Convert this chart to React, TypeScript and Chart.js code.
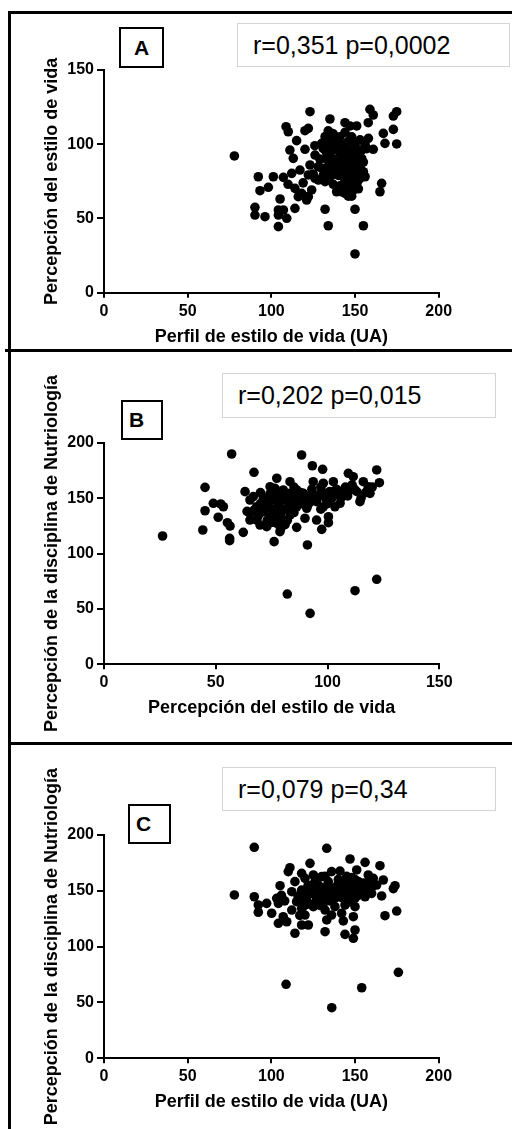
import React, { useEffect, useRef } from "react";
import { Chart, registerables } from "chart.js";

Chart.register(...registerables);

const FONT = '"Liberation Sans", Arial, Helvetica, sans-serif';

// Panel A: Perfil de estilo de vida (x) vs Percepción del estilo de vida (y)
const aX = [
  77.9, 123.1, 135, 158.9, 160.9, 174.9, 172.9, 108.8, 110.1, 120.1, 122.1, 144, 147, 151, 157.9, 166.9, 172.9, 167.9, 174.9, 160.9,
  115.1, 111.1, 113.1, 120.1, 132.1, 136, 130.1, 138, 142, 133.1, 126.1, 123.1, 128.1, 138, 144, 148, 152, 154, 151, 155,
  142, 136, 132.1, 128.1, 146, 150, 140, 144, 149, 152, 156, 92.2, 101.2, 107.2, 112.2, 117.1, 122.1, 126.1, 93.2, 98.2,
  114.1, 118.1, 122.1, 124.1, 116.1, 121.1, 105.2, 90.2, 90.2, 96.2, 104.2, 107.2, 104.2, 109.2, 114.1, 132.1, 150, 104.2, 134, 155,
  150, 165.9, 164.9,
  135, 137, 140, 142, 145, 147, 139, 143, 145, 147, 148, 150, 152, 153, 149, 146, 143, 140, 138, 134,
  131, 129, 133, 135, 131, 137, 139, 146, 151, 153, 155, 156, 158, 153, 150, 148, 146, 144, 141, 137,
  134, 136, 142, 145, 148, 152, 154, 157, 141, 139, 130, 125, 119, 110, 126,
  133, 136, 138, 140, 141, 144, 147, 149, 151, 150, 143, 137, 135, 139, 146, 148, 144, 142, 152, 134,
];
const aY = [
  92.1, 121.9, 117, 123.5, 119.7, 121.9, 119, 111.8, 108.4, 109.1, 110.7, 114.5, 112.3, 112.3, 114.5, 107.3, 110, 100.6, 100.2, 96.6,
  102.4, 96.1, 90.5, 96.6, 105.1, 107.3, 100.6, 100.6, 98.3, 93.9, 92.7, 86, 84.9, 87.1, 91.6, 93.9, 96.1, 90.5, 84.9, 81.5,
  81.5, 79.3, 74.8, 75.9, 75.9, 77, 71.4, 66.9, 69.2, 75.9, 78.1, 78.1, 78.1, 77.7, 80.4, 82.6, 79.3, 77, 68.7, 71,
  70.3, 66.9, 64.7, 69.2, 64.7, 62.4, 63.1, 57.5, 52.3, 51.2, 55.7, 55.7, 52.3, 50.1, 56.8, 56.2, 56.2, 44.5, 45.1, 45.1,
  26.1, 73.7, 68,
  95, 90, 88, 85, 83, 80, 80, 78, 72, 68, 65, 70, 80, 85, 88, 92, 96, 100, 104, 102,
  97, 90, 82, 78, 79, 73, 68, 65, 73, 77, 88, 100, 104, 103, 100, 105, 102, 108, 105, 107,
  109, 98, 93, 86, 82, 91, 96, 97, 72, 85, 84, 80, 74, 73, 99,
  90, 86, 83, 79, 94, 100, 96, 84, 88, 80, 88, 96, 101, 97, 88, 75, 74, 68, 70, 85,
];

// Panel B: Percepción del estilo de vida (x) vs Percepción de la disciplina de Nutriología (y)
const bX = [
  26.2, 57.1, 88.4, 67.1, 93.2, 97.8, 122, 123.2, 45.2, 48.9, 52.2, 53.4, 45.2, 51.1, 55.2, 56.4, 44.2, 56.2, 56.2, 62.3,
  63.1, 76.1, 91, 82, 92.2, 112.3, 122, 86.2, 95.1, 97.4, 100.4, 100.4, 114.5, 119, 118.2, 109.3, 111.5, 116, 107.1, 110.1,
  105.6, 103.3, 102.6, 98.1, 93.6, 98.1, 95.1, 90.7, 89.9, 83.2, 77.3, 86.2, 89.2,
  65.3, 68.3, 71.3, 74.3, 77.3, 80.2, 83.2, 86.2, 65.3, 68.3, 71.3, 74.3, 77.3, 80.2, 83.2, 72.8, 78.7, 69.8, 65.3, 74.3,
  80.2, 76.5, 72.8, 83.2, 77.3, 66.8,
  70, 73, 75, 78, 81, 84, 87, 90, 92, 94, 96, 99, 101, 104, 106, 108, 111, 113, 115, 117,
  120, 76, 79, 82, 85, 88, 91, 97, 100, 102, 67, 70, 75, 85, 88, 93, 97, 79, 64,
  72, 74, 78, 81, 83, 86, 89, 92, 95, 98, 103, 106, 109, 112, 118, 69, 73, 78, 81, 75,
];
const bY = [
  115.8, 189.8, 188.9, 173.3, 179.2, 176, 175.4, 163.9, 159.7, 145.3, 144.7, 142.2, 138.6, 132.7, 127.8, 124.8, 121.2, 113.7, 111.6, 119.1,
  155.8, 110.7, 107.7, 63.4, 46, 66.4, 76.7, 123.6, 130.2, 121.8, 133.2, 127.8, 146.8, 154.3, 160.3, 172.4, 169.3, 164.8, 152.8, 157.3,
  145.3, 142.2, 164.8, 163.4, 164.8, 142.2, 146.8, 140.8, 131.8, 164.8, 167.9, 157.3, 154.3,
  148.3, 142.2, 149.8, 154.3, 148.3, 151.3, 145.3, 142.2, 136.2, 130.2, 137.7, 133.2, 127.3, 130.2, 134.7, 124.2, 119.7, 125.7, 130.2, 160.3,
  157.3, 158.8, 142.2, 154.3, 139.3, 151.3,
  145, 147, 140, 144, 140, 150, 148, 150, 152, 148, 153, 150, 156, 158, 150, 160, 162, 156, 150, 155,
  160, 135, 136, 130, 137, 145, 143, 140, 145, 150, 139, 155, 150, 160, 155, 158, 160, 122, 138,
  150, 146, 152, 148, 141, 150, 147, 146, 150, 155, 153, 156, 152, 158, 157, 134, 130, 133, 126, 128,
];

// Panel C: Perfil de estilo de vida (x) vs Percepción de la disciplina de Nutriología (y)
const cX = [
  89.8, 133.1, 77.9, 89.8, 123.1, 147, 156, 164.9, 173.9, 172.9, 165.9, 167.9, 174.9, 166.9, 111.1, 105.2, 92.2, 97.2, 100.2, 92.2,
  104.2, 109.2, 107.1, 103.2, 104.2, 114.1, 118.1, 122.1, 120.1, 132.1, 144, 150, 149, 143, 149, 133.1, 108.8, 154, 136.1, 175.9,
  110.1, 118.1, 125.1, 130.1, 136, 141, 151, 157.9, 160.9, 114.1, 120.1, 128.1, 134, 140, 146, 152, 157.9, 162.9, 112.2, 118.1,
  124.1, 130.1, 136, 142, 148, 154, 159.9, 115.1, 121.1, 127.1, 132.1, 138, 144, 150, 156, 112.2, 118.1, 125.1, 132.1, 138,
  144, 150, 136, 142,
  145, 147, 149, 151, 153, 155, 139, 141, 143, 137, 133, 131, 127, 122, 116, 108, 106, 126, 135, 146,
  152, 158, 160, 144, 148, 132, 129, 120, 117,
  120, 124, 128, 130, 134, 138, 140, 142, 146, 150, 153, 156, 158, 150, 145, 140, 126, 122, 118, 123,
];
const cY = [
  189, 188.1, 146.3, 144.7, 174.6, 178.5, 175.5, 172.5, 154.6, 152, 145.4, 127.7, 131.9, 159.7, 170.7, 154.6, 137.3, 138.8, 129.9, 130.8,
  120.9, 122.3, 126.8, 143.3, 138.8, 112, 119.4, 119.4, 128.3, 113.4, 111, 114.9, 107.5, 123, 126.8, 123.9, 66.3, 63.2, 45.3, 77,
  167.2, 165.7, 164.2, 162.7, 167.2, 167.7, 168.7, 164.2, 161.2, 158.2, 161.2, 155.2, 158.2, 156.7, 161.2, 158.2, 155.2, 155.2, 149.2, 150.7,
  147.7, 149.2, 152.2, 149.2, 150.7, 149.2, 147.7, 140.3, 141.8, 143.3, 140.3, 143.3, 144.7, 143.3, 144.7, 132.8, 134.3, 135.8, 132.8, 135.8,
  137.3, 135.8, 128.3, 129.9,
  152, 155, 147, 152, 154, 157, 150, 146, 153, 148, 146, 153, 150, 152, 145, 141, 146, 139, 141, 140,
  146, 150, 153, 158, 162, 163, 137, 137, 128,
  146, 152, 147, 144, 150, 153, 147, 144, 148, 150, 147, 152, 158, 160, 163, 160, 158, 155, 142, 138,
];

const xTicksA = [0, 50, 100, 150, 200];
const yTicksA = [0, 50, 100, 150];
const xTicksB = [0, 50, 100, 150];
const yTicksBC = [0, 50, 100, 150, 200];

type PanelProps = {
  top: number;
  height: number;
  xs: number[];
  ys: number[];
  xTicks: number[];
  yTicks: number[];
  xTitle: string;
  yTitle: string;
  padTop: number;
  padRight: number;
  xAxisH: number;
  xTitlePadBottom: number;
};

function Panel(p: PanelProps) {
  const ref = useRef<HTMLCanvasElement | null>(null);
  useEffect(() => {
    if (!ref.current) return;
    const tickFont = { family: FONT, size: 16, weight: "bold" as const };
    const titleFont = { family: FONT, size: 18, weight: "bold" as const };
    const chart = new Chart(ref.current, {
      type: "scatter",
      data: {
        datasets: [
          {
            data: p.xs.map((x, i) => ({ x, y: p.ys[i] })),
            pointRadius: 4.8,
            pointHoverRadius: 4.8,
            backgroundColor: "#000",
            borderWidth: 0,
          },
        ],
      },
      options: {
        animation: false,
        responsive: false,
        maintainAspectRatio: false,
        devicePixelRatio: 1,
        events: [],
        layout: { padding: { left: 0, right: p.padRight, top: p.padTop, bottom: 0 } },
        plugins: { legend: { display: false }, tooltip: { enabled: false } },
        scales: {
          x: {
            type: "linear",
            min: p.xTicks[0],
            max: p.xTicks[p.xTicks.length - 1],
            afterFit: (s: any) => {
              s.height = p.xAxisH;
            },
            afterBuildTicks: (s: any) => {
              s.ticks = p.xTicks.map((v) => ({ value: v }));
            },
            ticks: { color: "#000", font: tickFont, padding: 4, maxRotation: 0 },
            grid: { drawOnChartArea: false, drawTicks: true, tickLength: 5, color: "#000", lineWidth: 2 },
            border: { display: true, color: "#000", width: 2 },
            title: {
              display: true,
              text: p.xTitle,
              color: "#000",
              font: titleFont,
              padding: { top: 0, bottom: p.xTitlePadBottom },
            },
          },
          y: {
            type: "linear",
            min: p.yTicks[0],
            max: p.yTicks[p.yTicks.length - 1],
            afterFit: (s: any) => {
              s.width = 104;
            },
            afterBuildTicks: (s: any) => {
              s.ticks = p.yTicks.map((v) => ({ value: v }));
            },
            ticks: { color: "#000", font: tickFont, padding: 3 },
            grid: { drawOnChartArea: false, drawTicks: true, tickLength: 7, color: "#000", lineWidth: 2 },
            border: { display: true, color: "#000", width: 2 },
            title: {
              display: true,
              text: p.yTitle,
              color: "#000",
              font: titleFont,
              padding: { top: 41.2, bottom: 0 },
            },
          },
        },
      },
    });
    return () => chart.destroy();
  }, []);
  return (
    <canvas
      ref={ref}
      width={512}
      height={p.height}
      style={{ position: "absolute", left: 0, top: p.top, width: 512, height: p.height }}
    />
  );
}

const line = (l: number, t: number, w: number, h: number) => (
  <div style={{ position: "absolute", left: l, top: t, width: w, height: h, background: "#000" }} />
);

function LetterBox(props: { l: number; t: number; w: number; h: number; text: string; padLeft?: number }) {
  return (
    <div
      style={{
        position: "absolute",
        left: props.l,
        top: props.t,
        width: props.w,
        height: props.h,
        boxSizing: "border-box",
        border: "2px solid #000",
        display: "flex",
        alignItems: "center",
        justifyContent: props.padLeft !== undefined ? "flex-start" : "center",
        paddingLeft: props.padLeft ?? 0,
        fontFamily: FONT,
        fontWeight: "bold",
        fontSize: 21,
        color: "#000",
        background: "#fff",
        zIndex: 2,
      }}
    >
      {props.text}
    </div>
  );
}

function StatBox(props: { l: number; t: number; w: number; h: number; text: string }) {
  return (
    <div
      style={{
        position: "absolute",
        left: props.l,
        top: props.t,
        width: props.w,
        height: props.h,
        boxSizing: "border-box",
        border: "1px solid #d4d4d4",
        display: "flex",
        alignItems: "center",
        paddingLeft: 15,
        fontFamily: FONT,
        fontSize: 25,
        color: "#000",
        background: "#fff",
        zIndex: 2,
        whiteSpace: "nowrap",
      }}
    >
      {props.text}
    </div>
  );
}

export default function App() {
  return (
    <div style={{ position: "absolute", left: 0, top: 0, width: 512, height: 1129, background: "#fff", overflow: "hidden" }}>
      <Panel
        top={0}
        height={350}
        xs={aX}
        ys={aY}
        xTicks={xTicksA}
        yTicks={yTicksA}
        xTitle="Perfil de estilo de vida (UA)"
        yTitle="Percepción del estilo de vida"
        padTop={70}
        padRight={73.3}
        xAxisH={57.3}
        xTitlePadBottom={2.2}
      />
      <Panel
        top={352}
        height={391}
        xs={bX}
        ys={bY}
        xTicks={xTicksB}
        yTicks={yTicksBC}
        xTitle="Percepción del estilo de vida"
        yTitle="Percepción de la disciplina de Nutriología"
        padTop={90.7}
        padRight={72.7}
        xAxisH={78.7}
        xTitlePadBottom={24.2}
      />
      <Panel
        top={745}
        height={384}
        xs={cX}
        ys={cY}
        xTicks={xTicksA}
        yTicks={yTicksBC}
        xTitle="Perfil de estilo de vida (UA)"
        yTitle="Percepción de la disciplina de Nutriología"
        padTop={90}
        padRight={73.3}
        xAxisH={70.7}
        xTitlePadBottom={16.2}
      />
      {line(8, 11, 504, 2.5)}
      {line(8, 11, 2.5, 1118)}
      {line(5, 349, 507, 2.5)}
      {line(8, 742, 504, 2.5)}
      <LetterBox l={119} t={27} w={45} h={41} text="A" />
      <LetterBox l={121} t={400} w={42} h={40} text="B" padLeft={6} />
      <LetterBox l={128} t={804} w={43} h={40} text="C" padLeft={6} />
      <StatBox l={237} t={23} w={273} h={44} text="r=0,351 p=0,0002" />
      <StatBox l={222} t={373} w={274} h={45} text="r=0,202 p=0,015" />
      <StatBox l={222} t={767} w={274} h={44} text="r=0,079 p=0,34" />
    </div>
  );
}
